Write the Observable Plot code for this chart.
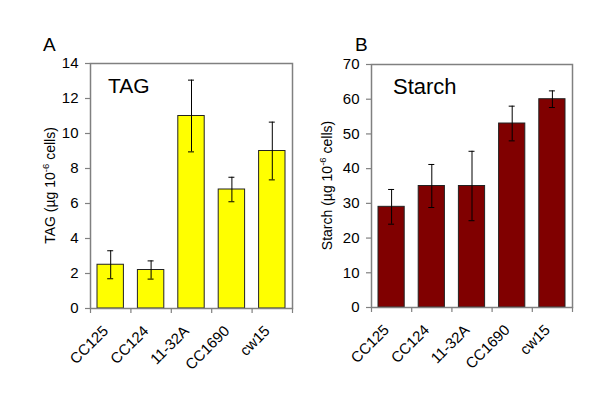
<!DOCTYPE html>
<html><head><meta charset="utf-8">
<script src="https://cdn.jsdelivr.net/npm/d3@7"></script>
<script src="https://cdn.jsdelivr.net/npm/@observablehq/plot@0.6"></script>
<style>
body{margin:0;background:#fff;}
#wrap{display:flex;width:600px;height:401px;overflow:hidden;}
svg{font-family:"Liberation Sans",Arial,sans-serif;}
</style></head><body><div id="wrap"></div>
<script>
const strains = ["CC125", "CC124", "11-32A", "CC1690", "cw15"];
const tagMean = [2.5, 2.2, 11.0, 6.8, 9.0];
const tagErr = [0.8, 0.52, 2.05, 0.7, 1.65];
const starchMean = [29, 35, 35, 53, 60];
const starchErr = [5, 6.2, 10, 5, 2.4];
const tagTicks = [0, 2, 4, 6, 8, 10, 12, 14];
const starchTicks = [0, 10, 20, 30, 40, 50, 60, 70];

function panel({mean, err, ticks, fill, letter, title, label, m, titleSize, letterX, titleDx, labelOffset}) {
  const data = strains.map((s, i) => ({s, i, v: mean[i], e: err[i]}));
  const ymax = ticks[ticks.length - 1];
  const plot = Plot.plot({
    width: 300, height: 401,
    marginLeft: m.left, marginRight: m.right, marginTop: m.top, marginBottom: m.bottom,
    style: {fontFamily: "Liberation Sans, Arial, sans-serif", fontSize: "15px", color: "#000", background: "#fff", overflow: "visible"},
    x: {domain: [0, strains.length], axis: null},
    y: {domain: [0, ymax], axis: null},
    marks: [
      Plot.rectY(data, {x1: "i", x2: d => d.i + 1, y: "v", insetLeft: 7, insetRight: 7, fill, stroke: "#222", strokeWidth: 1}),
      Plot.ruleX(data, {x: d => d.i + 0.5, y1: d => d.v - d.e, y2: d => d.v + d.e, stroke: "#000", strokeWidth: 1}),
      Plot.ruleY(data, {y: d => d.v + d.e, x1: d => d.i + 0.5, x2: d => d.i + 0.5, insetLeft: -3, insetRight: -3, stroke: "#000"}),
      Plot.ruleY(data, {y: d => d.v - d.e, x1: d => d.i + 0.5, x2: d => d.i + 0.5, insetLeft: -3, insetRight: -3, stroke: "#000"}),
      Plot.frame({stroke: "#808080", strokeWidth: 1.5}),
      Plot.axisY({ticks, tickSize: 5, tickPadding: 7, stroke: "#808080", strokeWidth: 1.2, label: null, fontSize: 15}),
      Plot.axisX({ticks: d3.range(strains.length + 1), tickFormat: () => "", tickSize: 5, stroke: "#808080", strokeWidth: 1.2, label: null}),
      Plot.axisX({ticks: strains.map((s, i) => i + 0.5), tickFormat: t => strains[Math.round(t - 0.5)], tickSize: 0, tickPadding: 20, dx: -5, tickRotate: -45, label: null, fontSize: 15})
    ]
  });
  const svg = d3.select(plot);
  const cy = m.top + (401 - m.top - m.bottom) / 2;
  svg.append("text").attr("x", letterX).attr("y", 51).attr("text-anchor", "start").attr("font-size", 19).attr("fill", "#000").text(letter);
  svg.append("text").attr("x", m.left + titleDx).attr("y", m.top + 30).attr("text-anchor", "start").attr("font-size", titleSize).attr("fill", "#000").text(title);
  const lab = svg.append("text").attr("transform", `translate(${m.left - labelOffset},${cy}) rotate(-90)`)
    .attr("text-anchor", "middle").attr("font-size", 14).attr("fill", "#000");
  lab.append("tspan").text(label + " (\u00b5g 10");
  lab.append("tspan").attr("dy", -6).attr("font-size", 9.5).text("-6");
  lab.append("tspan").attr("dy", 6).text(" cells)");
  return plot;
}

const wrap = document.getElementById("wrap");
wrap.append(panel({mean: tagMean, err: tagErr, ticks: tagTicks, fill: "#ffff00", letter: "A", title: "TAG", label: "TAG",
  m: {left: 90, right: 8, top: 63, bottom: 93}, titleSize: 21, letterX: 43, titleDx: 18, labelOffset: 35}));
wrap.append(panel({mean: starchMean, err: starchErr, ticks: starchTicks, fill: "#800000", letter: "B", title: "Starch", label: "Starch",
  m: {left: 71, right: 28, top: 64, bottom: 94}, titleSize: 22, letterX: 55, titleDx: 22, labelOffset: 39}));
</script></body></html>
